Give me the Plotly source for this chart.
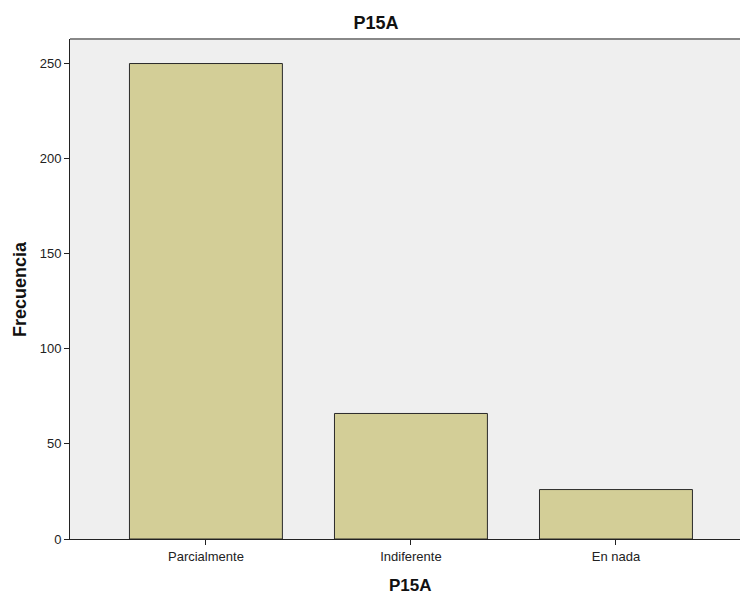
import plotly.graph_objects as go

categories = ["Parcialmente", "Indiferente", "En nada"]
frecuencia = [250, 66, 26]
y_ticks = [0, 50, 100, 150, 200, 250]

font_family = "Liberation Sans, Arial, sans-serif"

W, H = 740, 594
L, R, T, B = 70, 0, 39, 55
plot_w = W - L - R
plot_h = H - T - B

fig = go.Figure()
fig.add_trace(go.Bar(
    x=categories,
    y=frecuencia,
    marker=dict(color="#d3ce97", line=dict(color="#2a2a2a", width=1)),
    width=0.746,
    hoverinfo="x+y",
))

fig.update_layout(
    width=W, height=H,
    margin=dict(l=L, r=R, t=T, b=B),
    paper_bgcolor="white",
    plot_bgcolor="#efefef",
    showlegend=False,
    font=dict(family=font_family, size=13, color="#222222"),
    title=dict(text="<b>P15A</b>", x=376 / W, xref="container", xanchor="center",
               y=1 - 22.5 / H, yref="container", yanchor="middle",
               font=dict(size=18, color="#111111")),
    xaxis=dict(
        type="category",
        range=[-0.663, 2.605],
        showgrid=False, zeroline=False,
        showline=True, linecolor="#222222", linewidth=1,
        ticks="outside", ticklen=5, tickcolor="#222222",
        tickfont=dict(size=13, color="#222222"),
    ),
    yaxis=dict(
        range=[0, 262.9],
        tickvals=y_ticks,
        showgrid=False, zeroline=False,
        showline=True, linecolor="#222222", linewidth=1,
        ticks="outside", ticklen=5, tickcolor="#222222",
        tickfont=dict(size=13, color="#222222"),
    ),
    shapes=[dict(type="line", xref="paper", yref="paper", x0=0, x1=1, y0=1, y1=1,
                 line=dict(color="#888888", width=2))],
    annotations=[
        dict(text="<b>P15A</b>", x=1, xref="x", y=-(585 - (H - B)) / plot_h, yref="paper",
             showarrow=False, font=dict(size=17, color="#111111"),
             xanchor="center", yanchor="middle"),
        dict(text="<b>Frecuencia</b>", x=-(L - 20) / plot_w, xref="paper", y=0.5, yref="paper",
             showarrow=False, textangle=-90, font=dict(size=18, color="#111111"),
             xanchor="center", yanchor="middle"),
    ],
)

fig.write_html(
    "out.html",
    config={"displayModeBar": False},
    post_script="document.body.style.margin='0';document.body.style.overflow='hidden';",
)
